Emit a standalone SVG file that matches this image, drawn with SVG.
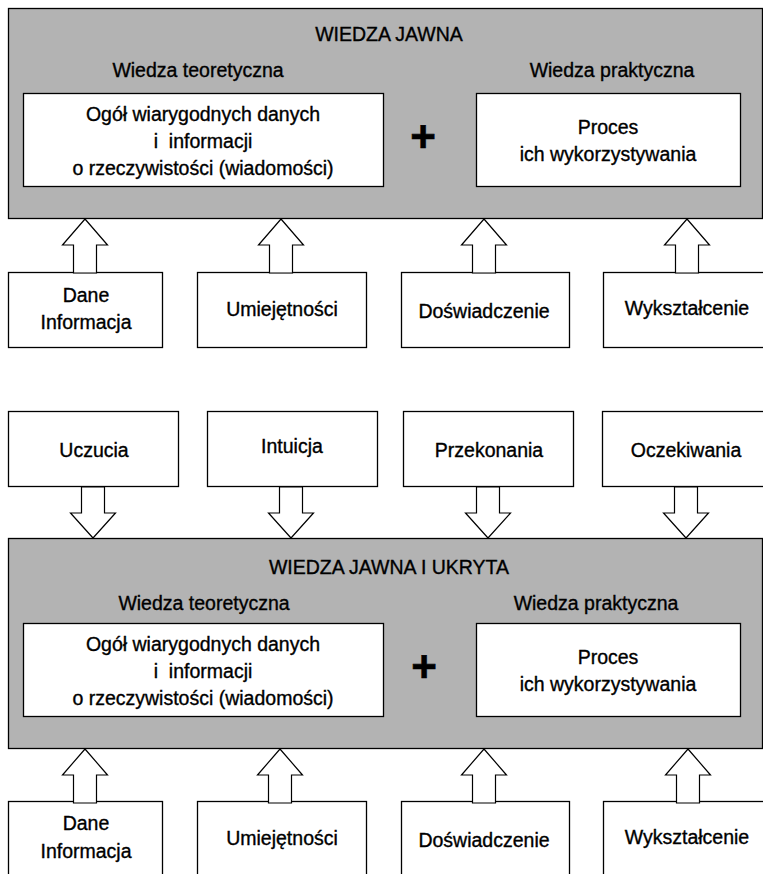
<svg xmlns="http://www.w3.org/2000/svg" width="763" height="874" viewBox="0 0 763 874">
  <style>
    .panel { fill: #b3b3b3; stroke: #000; stroke-width: 1.3; }
    .box { fill: #fff; stroke: #000; stroke-width: 1.3; }
    .arrow { fill: #fff; stroke: #000; stroke-width: 1.2; stroke-linejoin: miter; }
    text { font-family: "Liberation Sans", Arial, sans-serif; font-size: 19.5px; fill: #000; stroke: #000; stroke-width: 0.35; text-anchor: middle; }
    .plus { font-size: 44px; font-weight: bold; stroke-width: 0.6; }
  </style>
  <defs>
    <!-- hollow block arrow pointing up, tip at (0,0), length 54 -->
    <polygon id="up" points="0,0 22.5,26 11.5,26 11.5,54 -11.5,54 -11.5,26 -22.5,26"/>
    <!-- hollow block arrow pointing down, tip at (0,0), length 51 -->
    <polygon id="down" points="0,0 22.5,-25 11.5,-25 11.5,-51 -11.5,-51 -11.5,-25 -22.5,-25"/>
  </defs>

  <rect width="763" height="874" fill="#fff"/>

  <!-- upper panel: explicit knowledge -->
  <g id="panel-jawna">
    <rect class="panel" x="8.5" y="8.5" width="754" height="210"/>
    <text x="389" y="41">WIEDZA JAWNA</text>
    <text x="198" y="77">Wiedza teoretyczna</text>
    <text x="612" y="77">Wiedza praktyczna</text>
  </g>
  <g id="teoria-1">
    <rect class="box" x="23.5" y="93.5" width="360" height="93"/>
    <text x="203" y="121">Ogół wiarygodnych danych</text>
    <text x="203" y="148" xml:space="preserve">i  informacji</text>
    <text x="203" y="175">o rzeczywistości (wiadomości)</text>
  </g>
  <text class="plus" x="423" y="152">+</text>
  <g id="praktyka-1">
    <rect class="box" x="476.5" y="93.5" width="264" height="93"/>
    <text x="608" y="134">Proces</text>
    <text x="608" y="161">ich wykorzystywania</text>
  </g>

  <!-- sources feeding the upper panel -->
  <g id="dane-1">
    <rect class="box" x="8.5" y="272.5" width="154" height="75"/>
    <text x="86" y="302">Dane</text>
    <text x="86" y="329">Informacja</text>
  </g>
  <g id="umiejetnosci-1">
    <rect class="box" x="197.5" y="272.5" width="169" height="75"/>
    <text x="282" y="316">Umiejętności</text>
  </g>
  <g id="doswiadczenie-1">
    <rect class="box" x="401.5" y="272.5" width="168" height="75"/>
    <text x="484" y="318">Doświadczenie</text>
  </g>
  <g id="wyksztalcenie-1">
    <rect class="box" x="603.5" y="272.5" width="170" height="75"/>
    <text x="687" y="315">Wykształcenie</text>
  </g>

  <!-- tacit factors -->
  <g id="uczucia">
    <rect class="box" x="8.5" y="411.5" width="170" height="75"/>
    <text x="94" y="457">Uczucia</text>
  </g>
  <g id="intuicja">
    <rect class="box" x="207.5" y="411.5" width="170" height="75"/>
    <text x="292" y="453">Intuicja</text>
  </g>
  <g id="przekonania">
    <rect class="box" x="403.5" y="411.5" width="170" height="75"/>
    <text x="489" y="457">Przekonania</text>
  </g>
  <g id="oczekiwania">
    <rect class="box" x="602.5" y="411.5" width="171" height="75"/>
    <text x="686" y="457">Oczekiwania</text>
  </g>

  <!-- lower panel: explicit and tacit knowledge -->
  <g id="panel-jawna-ukryta">
    <rect class="panel" x="8.5" y="538.5" width="754" height="210"/>
    <text x="389" y="574">WIEDZA JAWNA I UKRYTA</text>
    <text x="204" y="610">Wiedza teoretyczna</text>
    <text x="596" y="610">Wiedza praktyczna</text>
  </g>
  <g id="teoria-2">
    <rect class="box" x="23.5" y="623.5" width="360" height="93"/>
    <text x="203" y="651">Ogół wiarygodnych danych</text>
    <text x="203" y="678" xml:space="preserve">i  informacji</text>
    <text x="203" y="705">o rzeczywistości (wiadomości)</text>
  </g>
  <text class="plus" x="424" y="682">+</text>
  <g id="praktyka-2">
    <rect class="box" x="476.5" y="623.5" width="264" height="93"/>
    <text x="608" y="664">Proces</text>
    <text x="608" y="691">ich wykorzystywania</text>
  </g>

  <!-- sources feeding the lower panel -->
  <g id="dane-2">
    <rect class="box" x="8.5" y="801.5" width="154" height="80"/>
    <text x="86" y="830">Dane</text>
    <text x="86" y="858">Informacja</text>
  </g>
  <g id="umiejetnosci-2">
    <rect class="box" x="197.5" y="801.5" width="169" height="80"/>
    <text x="282" y="845">Umiejętności</text>
  </g>
  <g id="doswiadczenie-2">
    <rect class="box" x="401.5" y="801.5" width="168" height="80"/>
    <text x="484" y="847">Doświadczenie</text>
  </g>
  <g id="wyksztalcenie-2">
    <rect class="box" x="603.5" y="801.5" width="170" height="80"/>
    <text x="687" y="844">Wykształcenie</text>
  </g>

  <!-- block arrows -->
  <g id="connectors">
    <use href="#up" class="arrow" x="85" y="219"/>
    <use href="#up" class="arrow" x="281" y="219"/>
    <use href="#up" class="arrow" x="484" y="219"/>
    <use href="#up" class="arrow" x="687" y="219"/>

    <use href="#down" class="arrow" x="93" y="538"/>
    <use href="#down" class="arrow" x="291" y="538"/>
    <use href="#down" class="arrow" x="488" y="538"/>
    <use href="#down" class="arrow" x="686" y="538"/>

    <use href="#up" class="arrow" x="85" y="749"/>
    <use href="#up" class="arrow" x="280" y="749"/>
    <use href="#up" class="arrow" x="484" y="749"/>
    <use href="#up" class="arrow" x="688" y="749"/>
  </g>
</svg>
